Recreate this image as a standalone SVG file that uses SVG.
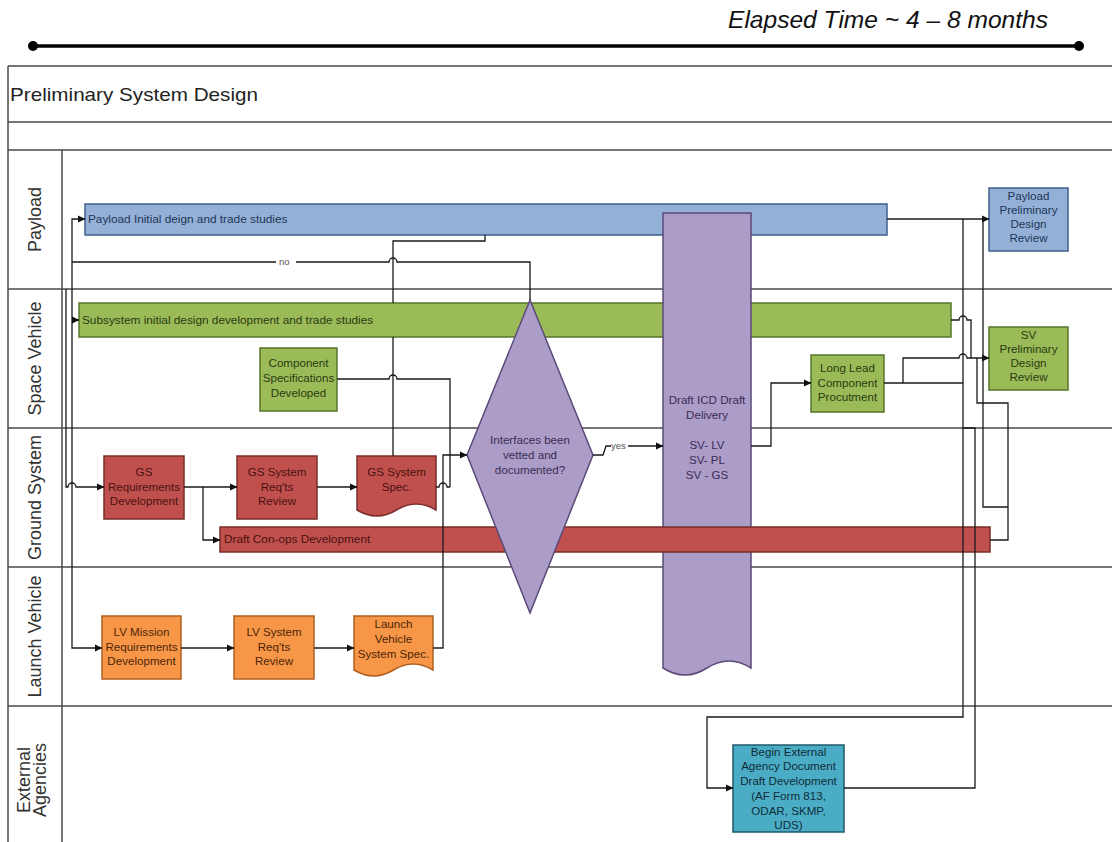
<svg xmlns="http://www.w3.org/2000/svg" width="1112" height="842" viewBox="0 0 1112 842">
<defs>
<marker id="arr" markerWidth="8" markerHeight="8" refX="7" refY="4" orient="auto" markerUnits="userSpaceOnUse"><path d="M0,0.6 L7.5,4 L0,7.4 Z" fill="#111"/></marker>
</defs>
<style>
.lane{stroke:#4a4a4a;stroke-width:1.5;fill:none}
.lbl{font-family:"Liberation Sans",Arial,sans-serif;font-size:18px;fill:#333;text-anchor:middle}
.c{fill:none;stroke:#1a1a1a;stroke-width:1.3}
.ca{fill:none;stroke:#1a1a1a;stroke-width:1.3;marker-end:url(#arr)}
.t{font-family:"Liberation Sans",Arial,sans-serif;font-size:11.6px;text-anchor:middle}
.tl{font-family:"Liberation Sans",Arial,sans-serif;font-size:11.8px}
.blue{fill:#94b0d6;stroke:#3f5f8c;stroke-width:1.5}
.green{fill:#9bbb59;stroke:#56762a;stroke-width:1.5}
.red{fill:#c0504d;stroke:#7a2c29;stroke-width:1.5}
.orange{fill:#f79646;stroke:#ae6022;stroke-width:1.5}
.purple{fill:#ac9cc8;stroke:#5a4a78;stroke-width:1.5}
.teal{fill:#4bacc6;stroke:#1f5a6b;stroke-width:1.5}
.tb{fill:#1d3658}.tg{fill:#2b3a10}.tr{fill:#4a1210}.to{fill:#4b2508}.tp{fill:#3a2c55}.tt{fill:#0f2d38}
.small{font-family:"Liberation Sans",Arial,sans-serif;font-size:9.5px;fill:#555}
</style>
<rect width="1112" height="842" fill="#fff"/>
<g id="timeline">
<text x="1048" y="28" font-family="'Liberation Sans',Arial,sans-serif" font-style="italic" font-size="24" text-anchor="end" textLength="320" lengthAdjust="spacingAndGlyphs" fill="#111">Elapsed Time ~ 4 – 8 months</text>
<line x1="33" y1="46" x2="1079" y2="46" stroke="#000" stroke-width="3.5"/>
<circle cx="33" cy="46" r="5" fill="#000"/>
<circle cx="1079" cy="46" r="5" fill="#000"/>
</g>
<g id="lanes">
<path class="lane" d="M8 66 H1112 M8 66 V842 M8 122 H1112 M8 150 H1112 M8 289 H1112 M8 428 H1112 M8 567 H1112 M8 706 H1112 M62 150 V842"/>
<text x="10" y="101" font-family="'Liberation Sans',Arial,sans-serif" font-size="19" fill="#222" textLength="248" lengthAdjust="spacingAndGlyphs">Preliminary System Design</text>
<text class="lbl" transform="translate(41,219.5) rotate(-90)">Payload</text>
<text class="lbl" transform="translate(41,358.5) rotate(-90)">Space Vehicle</text>
<text class="lbl" transform="translate(41,497.5) rotate(-90)">Ground System</text>
<text class="lbl" transform="translate(41,636.5) rotate(-90)">Launch Vehicle</text>
<text class="lbl" transform="translate(30,780) rotate(-90)">External</text>
<text class="lbl" transform="translate(46,780) rotate(-90)">Agencies</text>
</g>
<g id="nodes">
<g id="payload-bar"><rect class="blue" x="85" y="204" width="802" height="31"/><text class="tl tb" x="88" y="223">Payload Initial deign and trade studies</text></g>
<g id="subsystem-bar"><rect class="green" x="79" y="303" width="872" height="34"/><text class="tl tg" x="82" y="324">Subsystem initial design development and trade studies</text></g>
<g id="draft-icd"><path class="purple" d="M663 213 H751 V668 Q729 654 707 668 T663 668 Z"/>
<text class="t tp"><tspan x="707" y="404">Draft ICD Draft</tspan><tspan x="707" y="419">Delivery</tspan><tspan x="707" y="449">SV- LV</tspan><tspan x="707" y="464">SV- PL</tspan><tspan x="707" y="479">SV - GS</tspan></text></g>
<g id="conops-bar"><rect class="red" x="220" y="527" width="770" height="25"/><text class="tl tr" x="224" y="543">Draft Con-ops Development</text></g>
<g id="decision"><path class="purple" d="M530 300 L593 455 L530 613 L467 455 Z"/>
<text class="t tp"><tspan x="530" y="444">Interfaces been</tspan><tspan x="530" y="459">vetted and</tspan><tspan x="530" y="474">documented?</tspan></text></g>
<g id="payload-pdr"><rect class="blue" x="989" y="188" width="79" height="63"/>
<text class="t tb"><tspan x="1028.5" y="200">Payload</tspan><tspan x="1028.5" y="214">Preliminary</tspan><tspan x="1028.5" y="228">Design</tspan><tspan x="1028.5" y="242">Review</tspan></text></g>
<g id="sv-pdr"><rect class="green" x="989" y="327" width="79" height="63"/>
<text class="t tg"><tspan x="1028.5" y="339">SV</tspan><tspan x="1028.5" y="353">Preliminary</tspan><tspan x="1028.5" y="367">Design</tspan><tspan x="1028.5" y="381">Review</tspan></text></g>
<g id="component-spec"><rect class="green" x="260" y="348" width="77" height="63"/>
<text class="t tg"><tspan x="298.5" y="367">Component</tspan><tspan x="298.5" y="382">Specifications</tspan><tspan x="298.5" y="397">Developed</tspan></text></g>
<g id="long-lead"><rect class="green" x="811" y="355" width="73" height="57"/>
<text class="t tg"><tspan x="847.5" y="372">Long Lead</tspan><tspan x="847.5" y="387">Component</tspan><tspan x="847.5" y="401">Procutment</tspan></text></g>
<g id="gs-req"><rect class="red" x="104" y="456" width="80" height="63"/>
<text class="t tr"><tspan x="144" y="476">GS</tspan><tspan x="144" y="491">Requirements</tspan><tspan x="144" y="505">Development</tspan></text></g>
<g id="gs-review"><rect class="red" x="237" y="456" width="80" height="63"/>
<text class="t tr"><tspan x="277" y="476">GS System</tspan><tspan x="277" y="491">Req'ts</tspan><tspan x="277" y="505">Review</tspan></text></g>
<g id="gs-spec"><path class="red" d="M357 456 H436 V510 Q416.25 498 396.5 510 T357 510 Z"/>
<text class="t tr"><tspan x="396.5" y="476">GS System</tspan><tspan x="396.5" y="491">Spec.</tspan></text></g>
<g id="lv-req"><rect class="orange" x="102" y="616" width="79" height="63"/>
<text class="t to"><tspan x="141.5" y="636">LV Mission</tspan><tspan x="141.5" y="651">Requirements</tspan><tspan x="141.5" y="665">Development</tspan></text></g>
<g id="lv-review"><rect class="orange" x="234" y="616" width="80" height="63"/>
<text class="t to"><tspan x="274" y="636">LV System</tspan><tspan x="274" y="651">Req'ts</tspan><tspan x="274" y="665">Review</tspan></text></g>
<g id="lv-spec"><path class="orange" d="M354 616 H433 V670 Q413.25 658 393.5 670 T354 670 Z"/>
<text class="t to"><tspan x="393.5" y="628">Launch</tspan><tspan x="393.5" y="643">Vehicle</tspan><tspan x="393.5" y="658">System Spec.</tspan></text></g>
<g id="external"><rect class="teal" x="733" y="745" width="111" height="87"/>
<text class="t tt"><tspan x="788.5" y="756">Begin External</tspan><tspan x="788.5" y="770">Agency Document</tspan><tspan x="788.5" y="785">Draft Development</tspan><tspan x="788.5" y="800">(AF Form 813,</tspan><tspan x="788.5" y="815">ODAR, SKMP,</tspan><tspan x="788.5" y="829">UDS)</tspan></text></g>
</g>
<g id="connectors">
<path class="c" d="M530 300 V262 H397 a4 4 0 0 0 -8 0 H296 M276 262 H72"/>
<text class="small" x="279" y="265">no</text>
<path class="ca" d="M72 262 V219 H85"/>
<path class="ca" d="M72 262 V648 H102"/>
<path class="ca" d="M72 320 H79"/>
<path class="ca" d="M66 289 V487 H68 a4 4 0 0 1 8 0 H104"/>
<path class="ca" d="M184 487 H237"/>
<path class="ca" d="M317 487 H357"/>
<path class="ca" d="M203 487 V540 H220"/>
<path class="ca" d="M181 648 H234"/>
<path class="ca" d="M314 648 H354"/>
<path class="ca" d="M433 648 H443 V455 H467"/>
<path class="c" d="M436 487 H439 a4 4 0 0 1 8 0 H450"/>
<path class="c" d="M337 379 H389 a4 4 0 0 1 8 0 H450 V487"/>
<path class="c" d="M485 235 V241 H393 V303 M393 337 V456"/>
<path class="c" d="M593 455 H603 L606 446 H611"/>
<text class="small" x="611" y="449">yes</text>
<path class="ca" d="M628 446 H663"/>
<path class="ca" d="M751 446 H771 V383 H811"/>
<path class="ca" d="M887 219 H989"/>
<path class="ca" d="M951 320 H959 a4 4 0 0 1 8 0 H971 V358 H989"/>
<path class="c" d="M884 383 H963 M903 383 V358 H959 a4 4 0 0 1 8 0 H971"/>
<path class="ca" d="M963 219 V717 H707 V788 H733"/>
<path class="c" d="M844 788 H975 V428 H963"/>
<path class="c" d="M990 540 H1008 V403 H977 V358"/>
<path class="c" d="M1008 507 H983 V219"/>
</g>
</svg>
